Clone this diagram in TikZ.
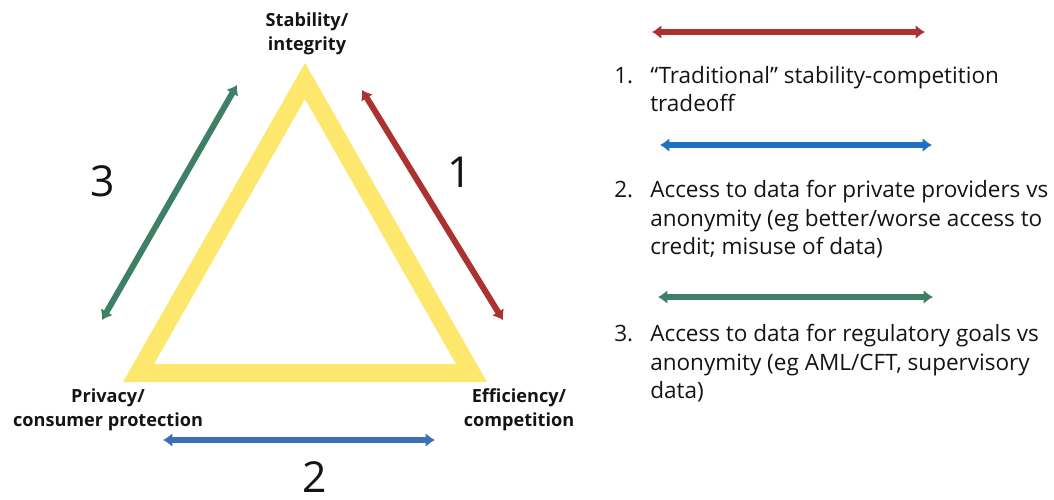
\documentclass[tikz,border=0pt]{standalone}
\usepackage{fontspec}
\setmainfont{Open Sans}
\usetikzlibrary{arrows.meta}

\definecolor{triyellow}{RGB}{253,231,108}
\definecolor{tradered}{RGB}{172,50,50}
\definecolor{tradeblue}{RGB}{30,112,192}
\definecolor{lowblue}{RGB}{62,110,180}
\definecolor{tradegreen}{RGB}{62,128,102}
\definecolor{inktext}{RGB}{20,20,20}

\tikzset{
  twoway/.style={line width=4.5pt, {Latex[length=7pt,width=10.5pt]}-{Latex[length=7pt,width=10.5pt]}},
  cornerlabel/.style={inner sep=0pt, align=center, text=inktext,
    font=\bfseries\fontsize{13.6}{18}\selectfont},
  bignum/.style={inner sep=0pt, text=inktext, font=\fontsize{32}{36}\selectfont},
  itemnum/.style={inner sep=0pt, anchor=base west, text=inktext,
    font=\fontsize{16.9}{21.4}\selectfont},
  itemtext/.style={inner sep=0pt, anchor=north west, align=left, text=inktext,
    font=\fontsize{16.9}{21.4}\selectfont}
}

\begin{document}
\begin{tikzpicture}[x=0.75pt,y=-0.75pt]
\useasboundingbox (0,0) rectangle (1054,500);

% yellow triangle frame
\fill[triyellow, even odd rule]
  (305,63) -- (487,382) -- (123,382) -- cycle
  (305,99) -- (456,364) -- (154,364) -- cycle;

% corner labels
\node[cornerlabel, anchor=north] (top) at (307,12) {Stability/\\integrity};
\node[cornerlabel, anchor=north] (left) at (108,388) {Privacy/\\consumer protection};
\node[cornerlabel, anchor=north] (right) at (519,388) {Efficiency/\\competition};

% tradeoff arrows around the triangle
\coordinate (r1a) at (362,90);
\coordinate (r1b) at (503,320);
\coordinate (b2a) at (163,440);
\coordinate (b2b) at (435,440);
\coordinate (g3a) at (237,85);
\coordinate (g3b) at (102,320);
\draw[twoway, tradered] (r1a) -- (r1b);
\draw[twoway, lowblue] (b2a) -- (b2b);
\draw[twoway, tradegreen] (g3a) -- (g3b);

\node[bignum] (n1) at (460,172) {1};
\node[bignum] (n2) at (315,477) {2};
\node[bignum] (n3) at (103,181) {3};

% legend
\coordinate (k1a) at (652,32);
\coordinate (k1b) at (925,32);
\coordinate (k2a) at (660,145);
\coordinate (k2b) at (932,145);
\coordinate (k3a) at (658,297);
\coordinate (k3b) at (933,297);
\draw[twoway, tradered] (k1a) -- (k1b);
\draw[twoway, tradeblue] (k2a) -- (k2b);
\draw[twoway, tradegreen] (k3a) -- (k3b);

\node[itemnum] (i1) at (614,83) {1.};
\node[itemtext] (t1) at (650,66) {“Traditional” stability-competition\\tradeoff};
\node[itemnum] (i2) at (614,197) {2.};
\node[itemtext] (t2) at (650,180) {Access to data for private providers vs\\anonymity (eg better/worse access to\\credit; misuse of data)};
\node[itemnum] (i3) at (614,341) {3.};
\node[itemtext] (t3) at (650,324) {Access to data for regulatory goals vs\\anonymity (eg AML/CFT, supervisory\\data)};
\end{tikzpicture}
\end{document}
